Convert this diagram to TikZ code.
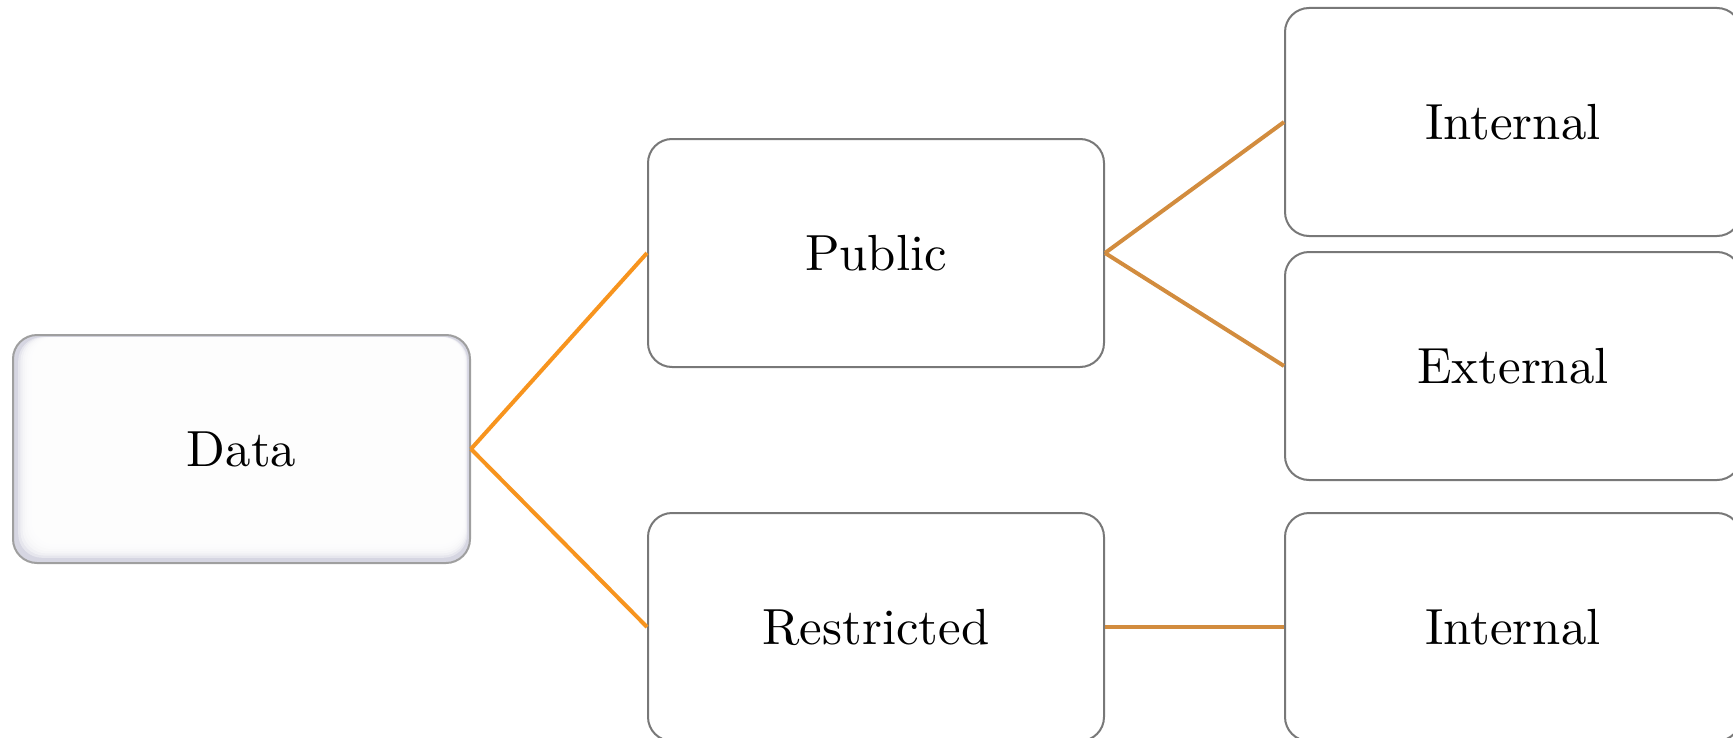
\documentclass[tikz,border=0pt]{standalone}
\usepackage{fontspec}
\newfontfamily\lmten{lmroman10-regular.otf}
\usetikzlibrary{calc}
\definecolor{lineA}{RGB}{247,148,30}
\definecolor{lineB}{RGB}{210,140,62}
\definecolor{boxline}{RGB}{120,120,120}
\definecolor{shadecol}{RGB}{214,214,226}
\tikzset{
  box/.style={draw=boxline, line width=1pt, rounded corners=12pt, fill=white,
    minimum width=228pt, minimum height=114pt, inner sep=0pt,
    font=\lmten\fontsize{25.4}{30}\selectfont},
  connA/.style={draw=lineA, line width=2pt},
  connB/.style={draw=lineB, line width=2pt}
}
\begin{document}
\begin{tikzpicture}[x=0.5pt,y=-0.5pt]
\useasboundingbox (0,0) rectangle (1733,738);
% shaded background of Data box
\fill[shadecol, rounded corners=12pt] (13,335) rectangle (470,563);
\foreach \i in {1,...,9}{
  \fill[white, opacity=0.4, rounded corners=12pt]
    (13+3+2.2*\i,337) rectangle (470-2-0.6*\i,563-3-2.2*\i);
}
\node[box, fill=none, draw=gray!75, minimum width=228.5pt] (data) at (241.5,449) {Data};
\node[box] (pub) at (876,253) {Public};
\node[box] (res) at (876,627) {Restricted};
\node[box] (int1) at (1513,122) {Internal};
\node[box] (ext) at (1513,366) {External};
\node[box] (int2) at (1513,627) {Internal};
\draw[connA] (data.east) -- (pub.west);
\draw[connA] (data.east) -- (res.west);
\draw[connB] (pub.east) -- (int1.west);
\draw[connB] (pub.east) -- (ext.west);
\draw[connB] (res.east) -- (int2.west);
\end{tikzpicture}
\end{document}
